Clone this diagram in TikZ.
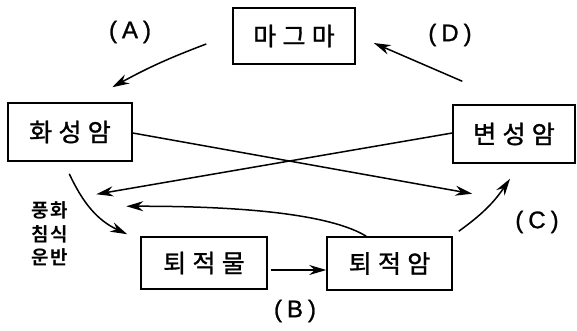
\documentclass[tikz,border=0pt]{standalone}
\usepackage{fontspec}
\newfontfamily\kr[LetterSpace=25,FakeBold=1.2]{Noto Sans CJK KR}
\newfontfamily\krb[LetterSpace=8]{Noto Sans CJK KR Bold}
\newfontfamily\lab[FakeBold=1]{Liberation Sans}
\usetikzlibrary{arrows.meta}
\begin{document}
\begin{tikzpicture}[x=1pt,y=1pt,
  box/.style={draw,line width=1.5pt,inner sep=0pt,font=\kr\fontsize{25}{28}\selectfont},
  arr/.style={line width=1.5pt,-{Stealth[length=17pt,width=10pt]}},
  lbl/.style={font=\lab\fontsize{24}{26}\selectfont}]
\useasboundingbox (0,0) rectangle (577,330);
\node[box,minimum width=122pt,minimum height=56pt] (magma) at (294,294) {마그마};
\node[box,minimum width=124pt,minimum height=58pt] (hwa) at (70,198) {화성암};
\node[box,minimum width=122pt,minimum height=58pt] (byeon) at (514,196) {변성암};
\node[box,minimum width=126pt,minimum height=52pt] (sed) at (204,67) {퇴적물};
\node[box,minimum width=125pt,minimum height=53pt] (rock) at (389.5,66.5) {퇴적암};
\node[lbl] (la) at (130,298) {(\hspace{5pt}A\hspace{5pt})};
\node[lbl] (ld) at (450,295) {(\hspace{5pt}D\hspace{5pt})};
\node[lbl] (lc) at (537,108) {(\hspace{5pt}C\hspace{5pt})};
\node[lbl] (lb) at (295,19) {(\hspace{5pt}B\hspace{5pt})};
\node[font=\krb\fontsize{19}{23.5}\selectfont,align=center,inner sep=0pt] (wea) at (50,96) {풍화\\침식\\운반};
% A
\draw[arr] ([shift={(-26,-8)}]magma.west) to[bend right=4] ([shift={(105,15)}]hwa.north west);
% D
\draw[arr] ([shift={(10,23)}]byeon.north west) -- ([shift={(18,-7)}]magma.east);
% crossing
\draw[arr] ([yshift=-1pt]hwa.east) -- ([shift={(20,-30)}]byeon.south west);
\draw[arr] ([yshift=1pt]byeon.west) -- ([shift={(-44,42)}]sed.north west);
% weathering
\draw[arr] ([shift={(62,-12)}]hwa.south west) to[out=-65,in=155] ([shift={(-13,2)}]sed.north west);
% sediment to rock
\draw[arr] ([shift={(3,-7)}]sed.east) -- ([yshift=-6.5pt]rock.west);
% rock back to weathering
\draw[arr] ([shift={(40,0)}]rock.north west) .. controls (335,113) and (260,124) .. ([shift={(-14,30)}]sed.north west);
% C
\draw[arr] ([shift={(6,5)}]rock.north east) to[bend right=10] ([shift={(-4,-15)}]byeon.south);
\end{tikzpicture}
\end{document}
